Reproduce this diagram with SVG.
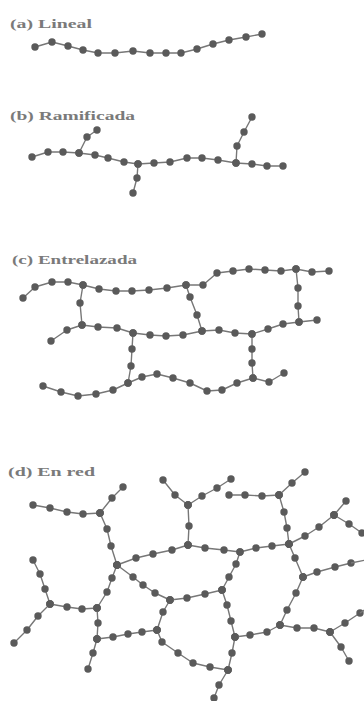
<svg xmlns="http://www.w3.org/2000/svg" width="364" height="701" viewBox="0 0 364 701">
  <style>
    .chain { fill: none; stroke: #777777; stroke-width: 1.4; stroke-linejoin: round; marker-start: url(#bead); marker-mid: url(#bead); marker-end: url(#bead); }
    .tail { fill: none; stroke: #777777; stroke-width: 1.4; }
    .label { font-family: "Liberation Serif", "Times New Roman", serif; font-size: 13px; font-weight: bold; fill: #7a7a7a; }
  </style>
  <defs>
    <!-- one monomer unit, placed on every vertex of a chain -->
    <marker id="bead" markerUnits="userSpaceOnUse" markerWidth="10" markerHeight="10" viewBox="-5 -5 10 10" refX="0" refY="0" overflow="visible">
      <circle r="3.7" fill="#5a5a5a"/>
    </marker>
  </defs>
  <rect width="364" height="701" fill="#ffffff"/>

  <!-- (a) linear polymer -->
  <g id="linear">
    <text class="label" x="10" y="28" textLength="82" lengthAdjust="spacingAndGlyphs">(a) Lineal</text>
    <g id="linear-chains">
      <polyline class="chain" points="35,47 52,42 68,46 83,50 98,53 115,53 133,51 150,53 166,53 181,53 197,49 213,44 229,40 246,37 262,34"/>
    </g>
  </g>

  <!-- (b) branched polymer -->
  <g id="branched">
    <text class="label" x="10" y="120" textLength="125" lengthAdjust="spacingAndGlyphs">(b) Ramificada</text>
    <g id="branched-chains">
      <polyline class="chain" points="32,157 48,152 63,152 79,153 95,155 108,158 124,162 138,164 154,163 170,162 187,158 202,158 218,160 236,163 252,164 267,166 283,166"/>
      <polyline class="chain" points="79,153 87,137 97,130"/>
      <polyline class="chain" points="138,164 137,178 133,193"/>
      <polyline class="chain" points="236,163 237,146 244,132 252,117"/>
    </g>
  </g>

  <!-- (c) cross-linked polymer -->
  <g id="crosslinked">
    <text class="label" x="12" y="264" textLength="125" lengthAdjust="spacingAndGlyphs">(c) Entrelazada</text>
    <g id="crosslinked-chains">
      <polyline class="chain" points="23,298 35,287 52,282 68,282 83,285 99,289 116,291 132,291 149,290 167,288 186,285 203,285 217,273 233,271 249,269 265,270 281,271 296,269 312,272 329,271"/>
      <polyline class="chain" points="51,341 67,330 82,325 98,327 117,328 133,333 150,335 166,336 183,335 202,331 219,330 235,333 252,334 268,329 283,324 299,322 317,320"/>
      <polyline class="chain" points="43,386 61,392 78,396 96,394 113,390 128,383 142,377 157,374 173,378 190,383 207,391 222,390 237,383 253,378 269,382 284,373"/>
      <polyline class="chain" points="83,285 80,303 82,325"/>
      <polyline class="chain" points="186,285 190,297 197,315 202,331"/>
      <polyline class="chain" points="296,269 298,288 298,306 299,322"/>
      <polyline class="chain" points="133,333 132,349 131,366 128,383"/>
      <polyline class="chain" points="252,334 252,349 252,363 253,378"/>
    </g>
  </g>

  <!-- (d) network polymer -->
  <g id="network">
    <text class="label" x="8" y="476" textLength="87" lengthAdjust="spacingAndGlyphs">(d) En red</text>
    <g id="network-chains">
      <polyline class="chain" points="33,505 50,508 67,512 83,514 100,513"/>
      <polyline class="chain" points="100,513 112,498 123,487"/>
      <polyline class="chain" points="100,513 107,529 111,546 117,565"/>
      <polyline class="chain" points="117,565 112,578 107,592 97,608"/>
      <polyline class="chain" points="33,560 40,574 45,589 50,604"/>
      <polyline class="chain" points="50,604 38,616 27,630 14,643"/>
      <polyline class="chain" points="50,604 67,607 82,609 97,608"/>
      <polyline class="chain" points="97,608 98,623 97,639"/>
      <polyline class="chain" points="97,639 93,653 88,669"/>
      <polyline class="chain" points="97,639 113,637 128,634 142,632 157,630"/>
      <polyline class="chain" points="117,565 133,577 143,585 155,593 170,600"/>
      <polyline class="chain" points="170,600 163,612 157,630"/>
      <polyline class="chain" points="157,630 162,642 178,653 193,663 210,667 228,670"/>
      <polyline class="chain" points="228,670 219,685 214,698"/>
      <polyline class="chain" points="117,565 136,558 153,554 172,550 188,545"/>
      <polyline class="chain" points="188,545 205,548 224,550 240,552 256,548 272,546 289,544"/>
      <polyline class="chain" points="240,552 236,564 229,577 222,590"/>
      <polyline class="chain" points="170,600 187,598 205,594 222,590"/>
      <polyline class="chain" points="222,590 227,605 231,621 235,637"/>
      <polyline class="chain" points="235,637 232,653 228,670"/>
      <polyline class="chain" points="235,637 250,635 267,632 280,625"/>
      <polyline class="chain" points="280,625 297,628 314,628 330,632"/>
      <polyline class="chain" points="330,632 345,623 360,613"/>
      <line class="tail" x1="360" y1="613" x2="366" y2="609"/>
      <polyline class="chain" points="330,632 341,647 349,661"/>
      <polyline class="chain" points="280,625 287,610 296,593 303,577"/>
      <polyline class="chain" points="303,577 317,572 335,567 351,563"/>
      <line class="tail" x1="351" y1="563" x2="366" y2="560"/>
      <polyline class="chain" points="303,577 295,558 289,544"/>
      <polyline class="chain" points="289,544 287,528 284,512 279,495"/>
      <polyline class="chain" points="229,495 245,495 262,496 279,495"/>
      <polyline class="chain" points="279,495 292,483 305,472"/>
      <polyline class="chain" points="289,544 305,536 319,527 334,515"/>
      <polyline class="chain" points="334,515 346,501"/>
      <polyline class="chain" points="334,515 349,524 362,533"/>
      <polyline class="chain" points="163,480 175,495 188,505"/>
      <polyline class="chain" points="188,505 202,496 217,488 231,479"/>
      <polyline class="chain" points="188,505 189,526 188,545"/>
    </g>
  </g>
</svg>
